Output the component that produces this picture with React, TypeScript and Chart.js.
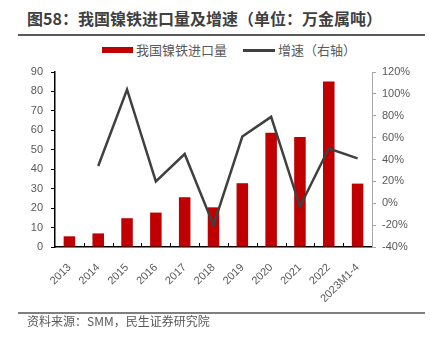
import React, { useEffect, useRef } from "react";
import { Chart, registerables } from "chart.js";

Chart.register(...registerables);

const categories = ["2013", "2014", "2015", "2016", "2017", "2018", "2019", "2020", "2021", "2022", "2023M1-4"];
const importVolume = [5.5, 7.0, 14.8, 17.7, 25.6, 20.4, 32.8, 58.8, 56.6, 85.1, 32.6];
const growthRate: (number | null)[] = [null, 34, 104, 20, 45, -20, 61, 79, -3, 50, 41];
const leftTicks = { min: 0, max: 90, step: 10 };
const rightTicks = { min: -40, max: 120, step: 20 };

const titleText = "图58：我国镍铁进口量及增速（单位：万金属吨）";
const barLabel = "我国镍铁进口量";
const lineLabel = "增速（右轴）";
const sourceText = "资料来源：SMM，民生证券研究院";

const CJK = '"Noto Sans CJK SC", "Noto Sans", sans-serif';
const NUM = '"Liberation Sans", "Noto Sans", sans-serif';

const innerTicks = {
  id: "innerTicks",
  afterDatasetsDraw(chart: any) {
    const x = chart.scales.x;
    const n = categories.length;
    const ctx = chart.ctx;
    ctx.save();
    ctx.strokeStyle = "#000";
    ctx.lineWidth = 1;
    for (let i = 1; i < n; i++) {
      const px = Math.round(x.left + (i * (x.right - x.left)) / n) + 0.5;
      ctx.beginPath();
      ctx.moveTo(px, x.top);
      ctx.lineTo(px, x.top - 4);
      ctx.stroke();
    }
    ctx.restore();
  },
};

export default function App() {
  const ref = useRef<HTMLCanvasElement>(null);
  useEffect(() => {
    if (!ref.current) return;
    const chart = new Chart(ref.current, {
      type: "bar",
      data: {
        labels: categories,
        datasets: [
          {
            type: "line",
            label: lineLabel,
            data: growthRate,
            yAxisID: "y1",
            borderColor: "#404040",
            borderWidth: 2.5,
            pointRadius: 0,
            tension: 0,
            order: 0,
          } as any,
          {
            type: "bar",
            label: barLabel,
            data: importVolume,
            yAxisID: "y",
            backgroundColor: "#C00000",
            barPercentage: 0.4,
            categoryPercentage: 1.0,
            order: 1,
          },
        ],
      },
      options: {
        responsive: false,
        animation: false,
        layout: { padding: { top: 72, left: 0, right: 0, bottom: 0 } },
        plugins: { legend: { display: false }, tooltip: { enabled: false }, title: { display: false } },
        scales: {
          x: {
            offset: true,
            grid: { display: false },
            border: { display: true, color: "#000", width: 1.5 },
            ticks: {
              minRotation: 45,
              maxRotation: 45,
              autoSkip: false,
              color: "#595959",
              font: { family: NUM, size: 11 },
              padding: 6,
            },
            afterFit: (s: any) => {
              s.height = 98;
            },
          },
          y: {
            position: "left",
            min: leftTicks.min,
            max: leftTicks.max,
            grid: { display: true, drawOnChartArea: false, drawTicks: true, tickLength: 4, tickColor: "#000" },
            border: { display: true, color: "#000", width: 1.5 },
            ticks: {
              stepSize: leftTicks.step,
              color: "#595959",
              font: { family: NUM, size: 11 },
              padding: 8,
            },
            afterFit: (s: any) => {
              s.width = 55;
            },
          },
          y1: {
            position: "right",
            min: rightTicks.min,
            max: rightTicks.max,
            grid: { display: true, drawOnChartArea: false, drawTicks: true, tickLength: 4, tickColor: "#a6a6a6" },
            border: { display: true, color: "#a6a6a6", width: 1 },
            ticks: {
              stepSize: rightTicks.step,
              color: "#595959",
              font: { family: NUM, size: 11 },
              padding: 6,
              callback: (v: any) => `${v}%`,
            },
            afterFit: (s: any) => {
              s.width = 58;
            },
          },
        },
      } as any,
      plugins: [innerTicks],
    });
    return () => chart.destroy();
  }, []);

  return (
    <div style={{ position: "fixed", left: 0, top: 0, width: 430, height: 345, background: "#fff", overflow: "hidden" }}>
      <div
        style={{
          position: "absolute",
          left: 27,
          top: 7,
          fontFamily: CJK,
          fontWeight: 700,
          fontSize: 16,
          lineHeight: "22px",
          color: "#404040",
          whiteSpace: "nowrap",
        }}
      >
        {titleText}
      </div>
      <div style={{ position: "absolute", left: 18, top: 34, width: 407, height: 2, background: "#595959" }} />
      <div style={{ position: "absolute", left: 102, top: 47, width: 31, height: 6, background: "#C00000" }} />
      <div
        style={{
          position: "absolute",
          left: 136,
          top: 41,
          fontFamily: CJK,
          fontSize: 13,
          lineHeight: "18px",
          color: "#595959",
          whiteSpace: "nowrap",
        }}
      >
        {barLabel}
      </div>
      <div style={{ position: "absolute", left: 243, top: 49, width: 32, height: 2.5, background: "#404040" }} />
      <div
        style={{
          position: "absolute",
          left: 278,
          top: 41,
          fontFamily: CJK,
          fontSize: 13,
          lineHeight: "18px",
          color: "#595959",
          whiteSpace: "nowrap",
        }}
      >
        {lineLabel}
      </div>
      <canvas ref={ref} width={430} height={345} style={{ position: "absolute", left: 0, top: 0 }} />
      <div style={{ position: "absolute", left: 18, top: 312, width: 407, height: 1.5, background: "#7f7f7f" }} />
      <div
        style={{
          position: "absolute",
          left: 27,
          top: 312,
          fontFamily: CJK,
          fontSize: 12,
          lineHeight: "18px",
          color: "#595959",
          whiteSpace: "nowrap",
        }}
      >
        {sourceText}
      </div>
    </div>
  );
}
